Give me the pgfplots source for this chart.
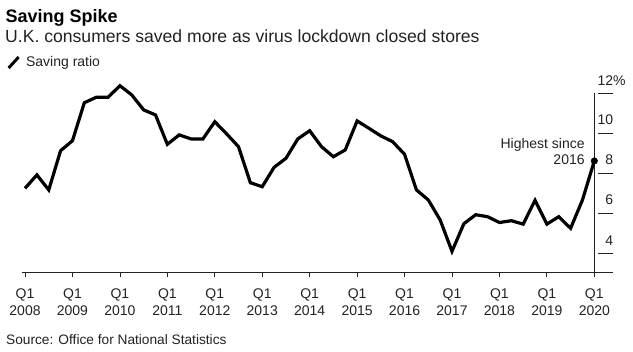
\documentclass[border=0pt]{standalone}
\usepackage{pgfplots}
\pgfplotsset{compat=1.18}
\usepackage{fontspec}
\setmainfont{Liberation Sans}
\definecolor{txt}{HTML}{222222}
\begin{document}
\begin{tikzpicture}[x=1bp,y=1bp]
\path[use as bounding box] (0,0) rectangle (633,-351);
\node[anchor=base west, inner sep=0, font=\fontsize{18bp}{20bp}\selectfont\bfseries] at (5.5,-22.7) {Saving Spike};
\node[anchor=base west, inner sep=0, font=\fontsize{17.6bp}{20bp}\selectfont, text=txt] at (5,-42.3) {U.K. consumers saved more as virus lockdown closed stores};
\node[anchor=base west, inner sep=0, font=\fontsize{13.7bp}{16bp}\selectfont, text=txt] at (6,-344) {Source: Office for National Statistics};

\begin{axis}[
  at={(21.7bp,-272.3bp)}, anchor=south west,
  scale only axis, width=591bp, height=179bp,
  xmin=-0.28, xmax=49.55, ymin=3.05, ymax=12,
  axis x line*=bottom, axis y line=none,
  clip=false,
  xtick={0,4,...,48},
  xticklabels={{Q1\\2008},{Q1\\2009},{Q1\\2010},{Q1\\2011},{Q1\\2012},{Q1\\2013},{Q1\\2014},{Q1\\2015},{Q1\\2016},{Q1\\2017},{Q1\\2018},{Q1\\2019},{Q1\\2020}},
  xtick align=outside, major tick length=4.7bp,
  x axis line style={line width=0.8bp, draw=txt},
  xtick style={line width=0.8bp, draw=txt},
  xticklabel style={font=\fontsize{14bp}{17bp}\selectfont, align=center, text=txt, inner sep=0pt, anchor=north, yshift=-12bp},
  extra x ticks={48}, extra x tick labels={},
  extra x tick style={grid=major, major grid style={draw=txt, line width=0.8bp}},
  legend style={draw=none, fill=none, at={(axis description cs:-0.025,1.172)}, anchor=west, inner sep=0pt,
    font=\fontsize{14bp}{16bp}\selectfont, text=txt, /tikz/every odd column/.append style={column sep=4bp}},
  legend cell align=left,
  legend image code/.code={\draw[line width=3bp, line cap=butt] (0bp,-5.5bp) -- (10bp,5.5bp);},
]
\addplot[black, line width=3.2bp, line join=miter] coordinates {
(0,7.25) (1,7.92) (2,7.17) (3,9.13) (4,9.63) (5,11.53) (6,11.8) (7,11.8)
(8,12.38) (9,11.92) (10,11.17) (11,10.92) (12,9.45) (13,9.92) (14,9.72) (15,9.72)
(16,10.58) (17,9.97) (18,9.33) (19,7.53) (20,7.33) (21,8.3) (22,8.75) (23,9.72)
(24,10.13) (25,9.33) (26,8.83) (27,9.17) (28,10.62) (29,10.25) (30,9.87) (31,9.58)
(32,8.95) (33,7.17) (34,6.67) (35,5.67) (36,4.1) (37,5.48) (38,5.93) (39,5.83)
(40,5.54) (41,5.63) (42,5.46) (43,6.65) (44,5.46) (45,5.83) (46,5.25) (47,6.67)
(48,8.62)
};
\addlegendentry{Saving ratio}
\addplot[only marks, mark=*, mark size=3.3bp, black, forget plot] coordinates {(48,8.62)};
\node[anchor=north east, inner sep=0pt, align=right, font=\fontsize{14bp}{16.2bp}\selectfont, text=txt]
  at (axis cs:47.2,9.75) {Highest since\\2016};
\end{axis}

\begin{axis}[
  at={(21.7bp,-272.3bp)}, anchor=south west,
  scale only axis, width=591bp, height=179bp,
  xmin=-0.28, xmax=49.55, ymin=3.05, ymax=12,
  hide x axis, axis y line*=right,
  y axis line style={draw=none},
  ytick={6,8,10,12}, yticklabels={6,8,10,12\rlap{\%}},
  ytick align=inside, major tick length=15bp,
  ytick style={line width=0.8bp, draw=txt},
  yticklabel style={anchor=south east, inner sep=0pt, yshift=8bp, xshift=0.6bp, font=\fontsize{14bp}{16bp}\selectfont, text=txt},
  extra y ticks={4}, extra y tick labels={4},
  extra y tick style={tick style={draw=none}},
]
\end{axis}
\end{tikzpicture}
\end{document}
